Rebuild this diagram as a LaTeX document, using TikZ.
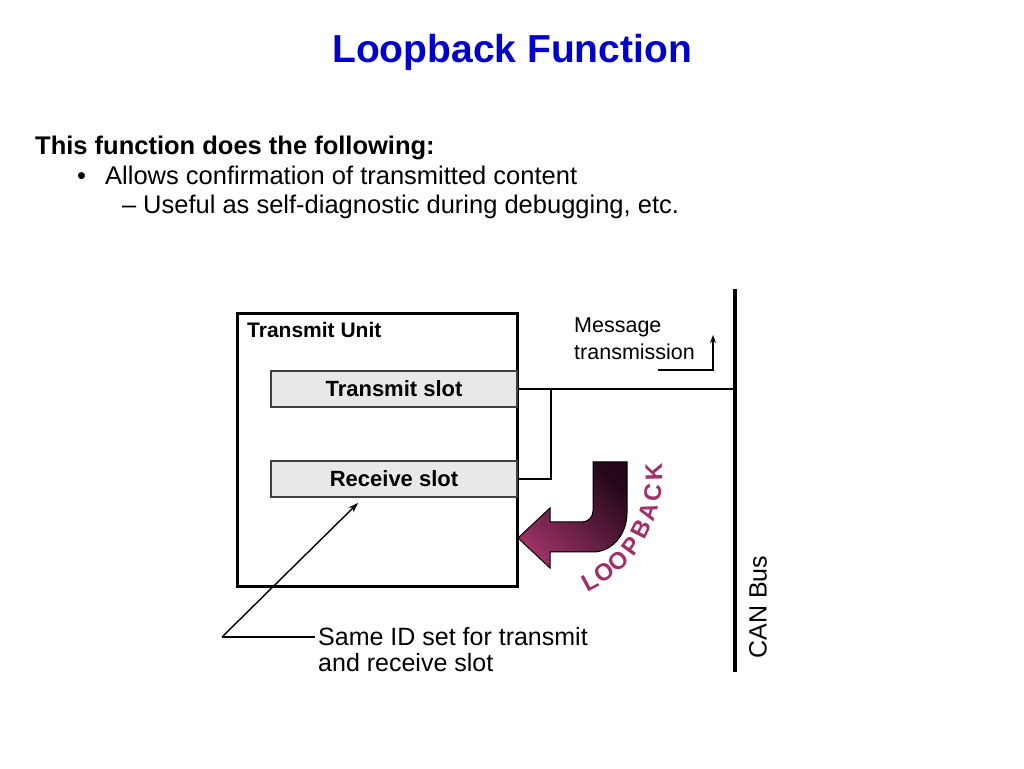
\documentclass[tikz,border=0pt]{standalone}
\usepackage{fontspec}
\setmainfont{Liberation Sans}
\usetikzlibrary{arrows.meta}
\definecolor{titleblue}{RGB}{0,0,204}
\definecolor{slotgray}{RGB}{232,232,232}
\definecolor{loopdark}{RGB}{36,8,26}
\definecolor{looplight}{RGB}{156,50,102}
\definecolor{looptext}{RGB}{160,48,104}
\begin{document}
\begin{tikzpicture}[x=1pt, y=1pt,
    lbl/.style={inner sep=0pt, anchor=base west},
    slot/.style={draw=black!75, line width=1.2pt, fill=slotgray, minimum width=246pt, minimum height=36pt, inner sep=0pt, font=\fontsize{22}{24}\selectfont\bfseries},
    wire/.style={line width=1.5pt},
    leader/.style={line width=1.4pt}]
			\fill[white] (0,0) rectangle (1024,768);
			\useasboundingbox (0,0) rectangle (1024,768);
			\node[lbl, anchor=base, text=titleblue, font=\fontsize{39}{41}\selectfont\bfseries] (title) at (512,705) {Loopback Function};
			\node[lbl, font=\fontsize{25.5}{28}\selectfont\bfseries] (intro) at (35,613) {This function does the following:};
			\node[lbl, font=\fontsize{25.5}{28}\selectfont] (bullet) at (77,583) {\textbullet};
			\node[lbl, font=\fontsize{25.5}{28}\selectfont] (item) at (105,583) {Allows confirmation of transmitted content};
			\node[lbl, font=\fontsize{25.5}{28}\selectfont] (dash) at (122,554) {--};
			\node[lbl, font=\fontsize{25.5}{28}\selectfont] (subitem) at (143,554) {Useful as self-diagnostic during debugging, etc.};
			\node[draw, line width=3pt, minimum width=280pt, minimum height=273pt, inner sep=0pt] (unit) at (377,317.5) {};
			\node[lbl, font=\fontsize{21}{23}\selectfont\bfseries] (unitname) at (247,430) {Transmit Unit};
			\node[slot] (tx) at (394,379) {Transmit slot};
			\node[slot] (rx) at (394,289) {Receive slot};
			\coordinate (bustop) at (735,479);
			\coordinate (busbot) at (735,96);
			\draw[line width=4pt] (bustop) -- (busbot);
			\node[rotate=90, inner sep=0pt, font=\fontsize{25}{28}\selectfont] (canbus) at (758,161) {CAN Bus};
			\coordinate (tap) at (551,379);
			\draw[wire] (tx.east) -- (tx.east -| bustop);
			\draw[wire] (tap) |- (rx.east);
			\node[lbl, align=left, font=\fontsize{21.5}{27}\selectfont] (msg) at (574,408) {Message\\transmission};
			\coordinate (msgfrom) at (658,398);
			\coordinate (msgto) at (713,433);
			\draw[line width=1.3pt, -{Stealth[length=8pt, width=6pt]}] (msgfrom) -| (msgto);
			\draw[line width=1pt, top color=looplight, bottom color=loopdark, shading angle=135] (593,306) -- (627,306) -- (627,255) arc[start angle=0, end angle=-90, x radius=34, y radius=39] -- (550,216) -- (550,200) -- (518,230) -- (550,260) -- (550,246) -- (582,246) arc[start angle=-90, end angle=0, radius=11] -- cycle;
			\foreach \ch/\ang [count=\i] in {L/-62, O/-54, O/-45.3, P/-36, B/-26.6, A/-17.6, C/-8.4, K/1.5}
				\node[inner sep=0pt, text=looptext, rotate=\ang+90, font=\fontsize{24}{25}\selectfont\bfseries] (loop\i) at ([shift={(\ang:120)}] 534,292.5) {\ch};
			\node[lbl, align=left, font=\fontsize{25}{26}\selectfont] (sameid) at (318,97) {Same ID set for transmit\\and receive slot};
			\coordinate (kink) at (222,131);
			\coordinate (rxpoint) at (358,265);
			\coordinate (sameidleft) at (315,131);
			\draw[leader, -{Stealth[length=10pt, width=7pt]}] (kink) -- (rxpoint);
			\draw[leader] (kink) -- (sameidleft);
		\end{tikzpicture}
\end{document}
